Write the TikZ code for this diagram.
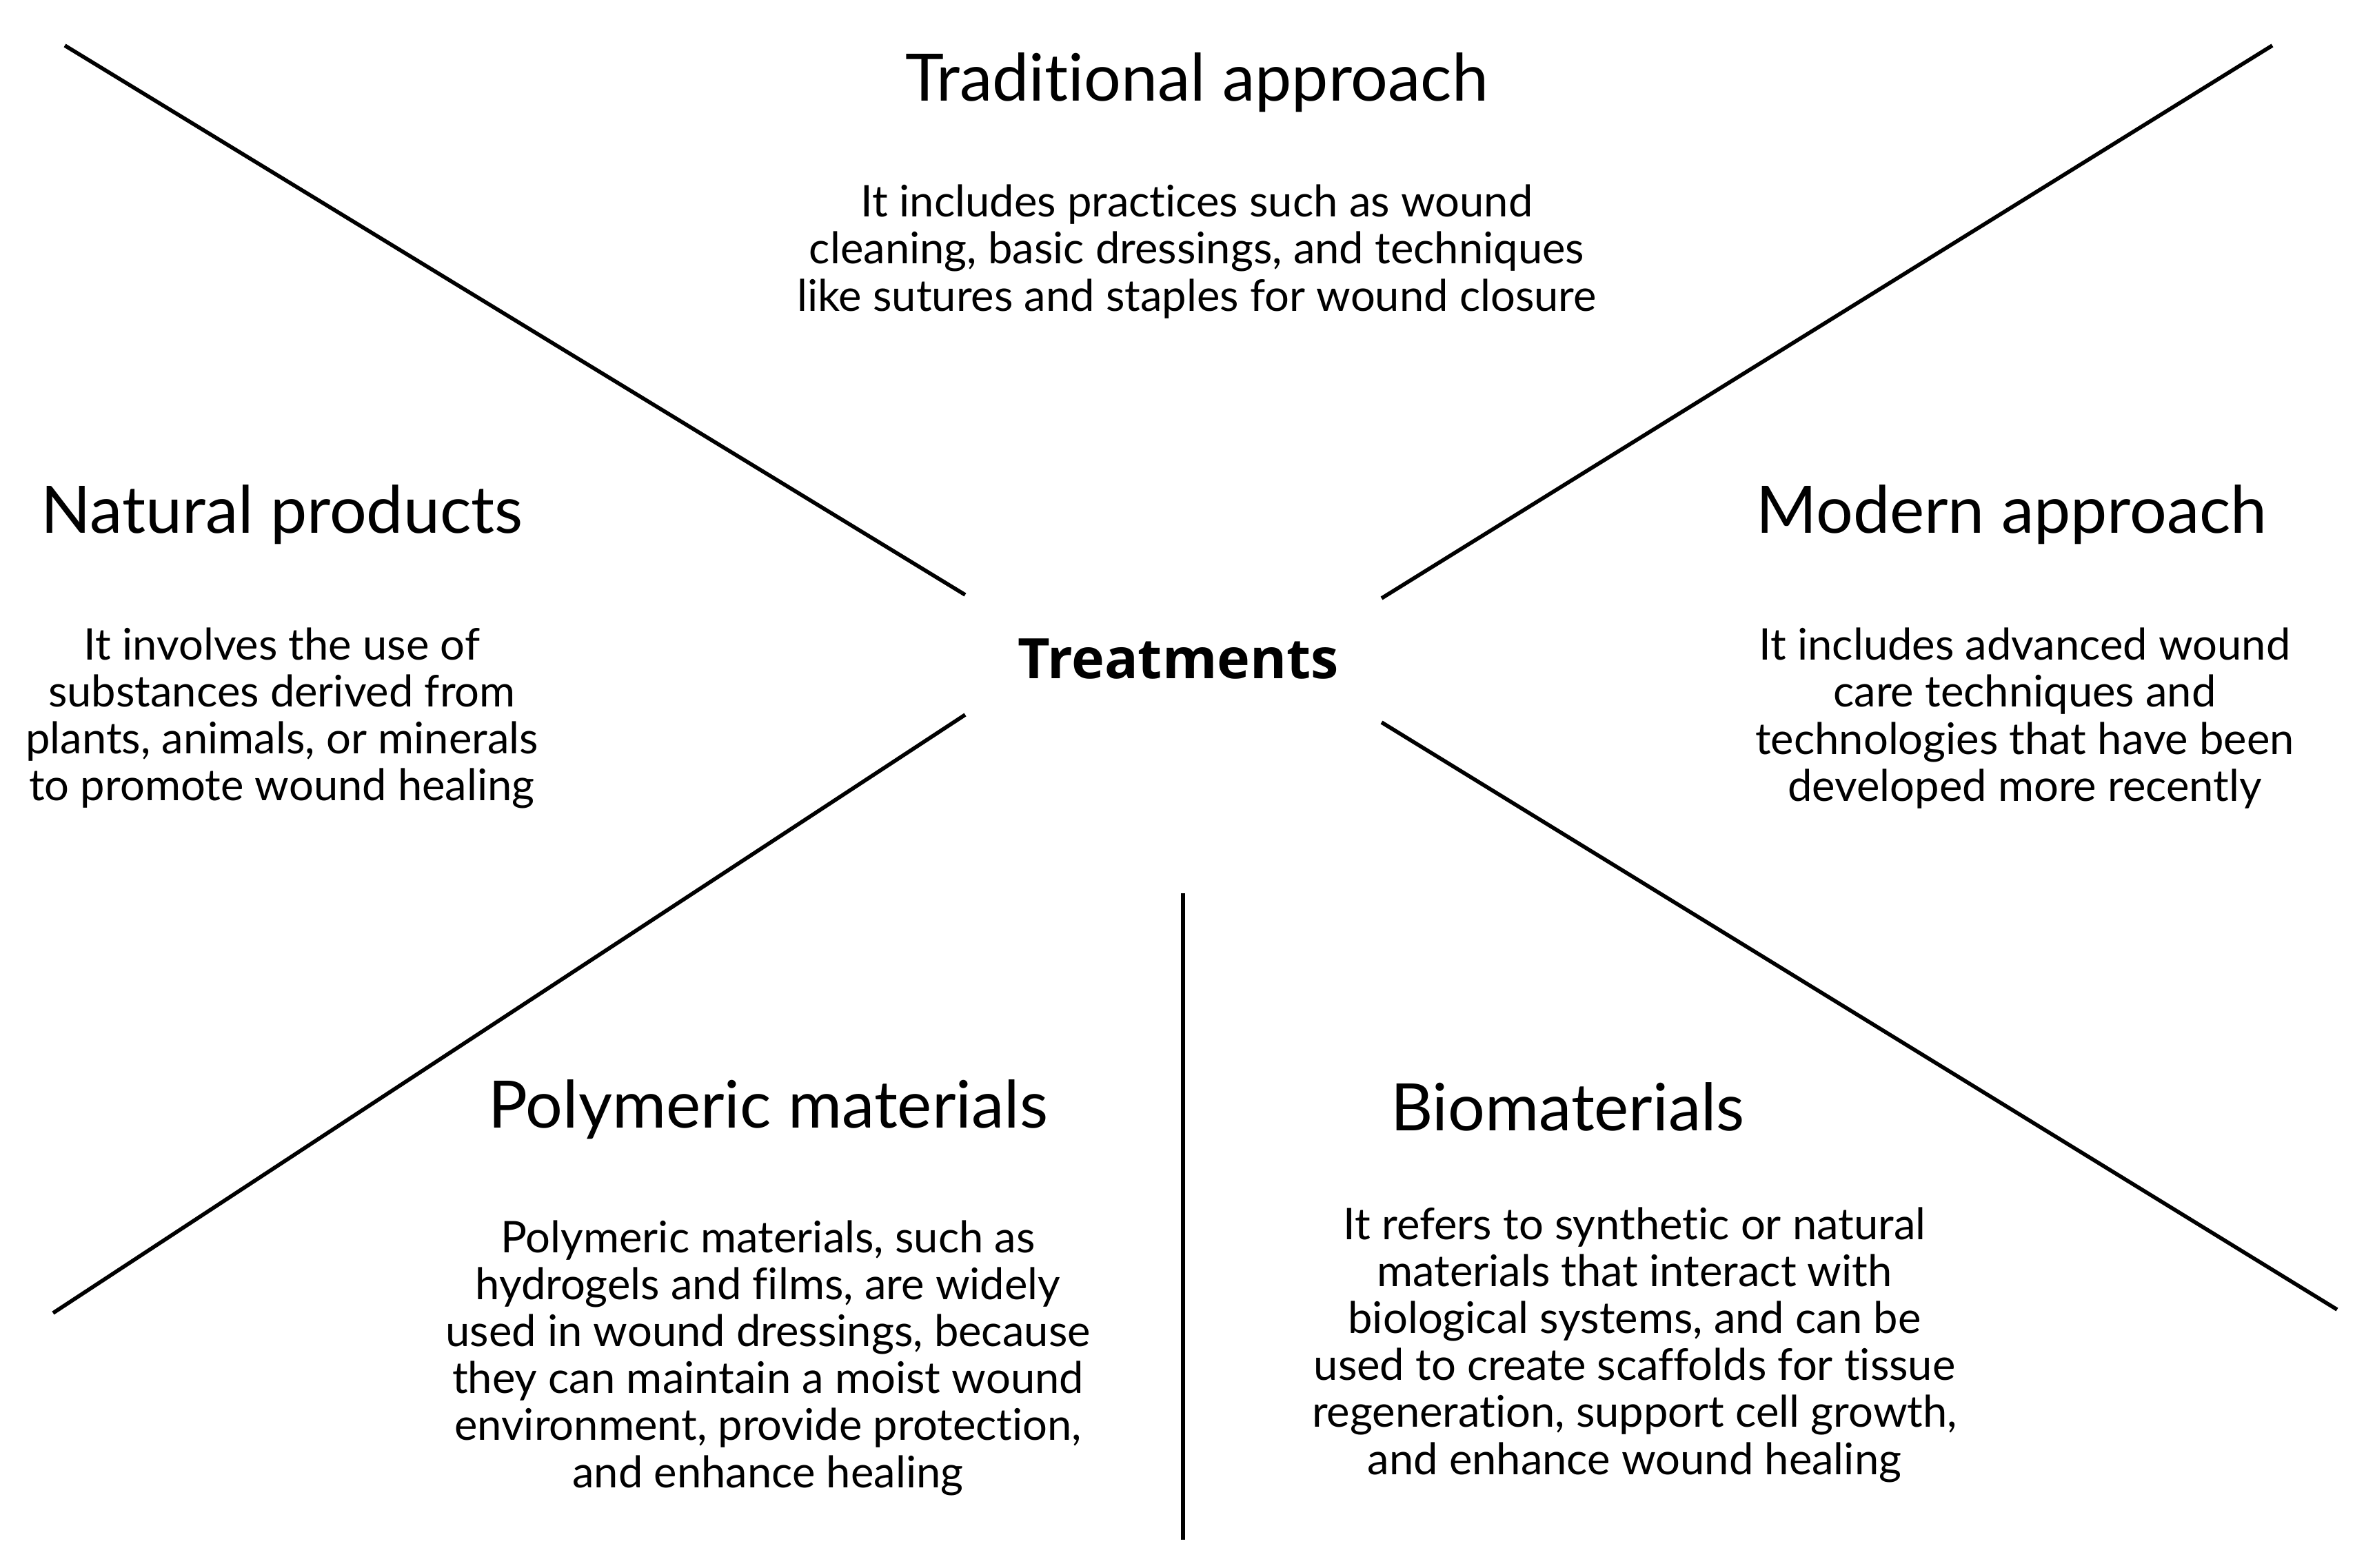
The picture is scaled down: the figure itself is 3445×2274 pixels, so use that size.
\documentclass[tikz,border=0pt]{standalone}
\usepackage{fontspec}
\setmainfont{Lato}[Ligatures=NoCommon]
\newfontfamily\hubfont{Open Sans}
\usetikzlibrary{positioning}

\begin{document}
\begin{tikzpicture}[
  x=0.01cm, y=-0.01cm,
  title/.style={font=\fontsize{27}{32}\selectfont, inner sep=0pt},
  body/.style={font=\fontsize{18}{19.4}\selectfont, align=center, inner sep=0pt},
  hub/.style={font=\hubfont\bfseries\fontsize{23}{28}\selectfont, inner sep=0pt},
  sep/.style={line width=1.6pt}
]
  \useasboundingbox (0,0) rectangle (3445,2274);

  \node[hub] (hub) at (1709,956) {Treatments};

  \node[title] (trad) at (1736,120) {Traditional approach};
  \node[body]  (tradtxt) at (1736,365) {It includes practices such as wound\\
    cleaning, basic dressings, and techniques\\
    like sutures and staples for wound closure};

  \node[title] (nat) at (409,747) {Natural products};
  \node[body]  (nattxt) at (409,1042) {It involves the use of\\
    substances derived from\\
    plants, animals, or minerals\\
    to promote wound healing};

  \node[title] (mod) at (2918,747) {Modern approach};
  \node[body]  (modtxt) at (2937,1042) {It includes advanced wound\\
    care techniques and\\
    technologies that have been\\
    developed more recently};

  \node[title] (poly) at (1114,1610) {Polymeric materials};
  \node[body]  (polytxt) at (1114,1970) {Polymeric materials, such as\\
    hydrogels and films, are widely\\
    used in wound dressings, because\\
    they can maintain a moist wound\\
    environment, provide protection,\\
    and enhance healing};

  \node[title] (bio) at (2274,1606) {Biomaterials};
  \node[body]  (biotxt) at (2371,1951) {It refers to synthetic or natural\\
    materials that interact with\\
    biological systems, and can be\\
    used to create scaffolds for tissue\\
    regeneration, support cell growth,\\
    and enhance wound healing};

  % dividing lines
  \coordinate (tlA) at (94,66);    \coordinate (tlB) at (1400,863);
  \coordinate (trA) at (3296,66);  \coordinate (trB) at (2004,868);
  \coordinate (blA) at (1400,1037); \coordinate (blB) at (77,1905);
  \coordinate (brA) at (2004,1048); \coordinate (brB) at (3390,1900);
  \coordinate (vA) at (1716,1296); \coordinate (vB) at (1716,2234);

  \draw[sep] (tlA) -- (tlB);
  \draw[sep] (trA) -- (trB);
  \draw[sep] (blA) -- (blB);
  \draw[sep] (brA) -- (brB);
  \draw[sep] (vA) -- (vB);
\end{tikzpicture}
\end{document}
